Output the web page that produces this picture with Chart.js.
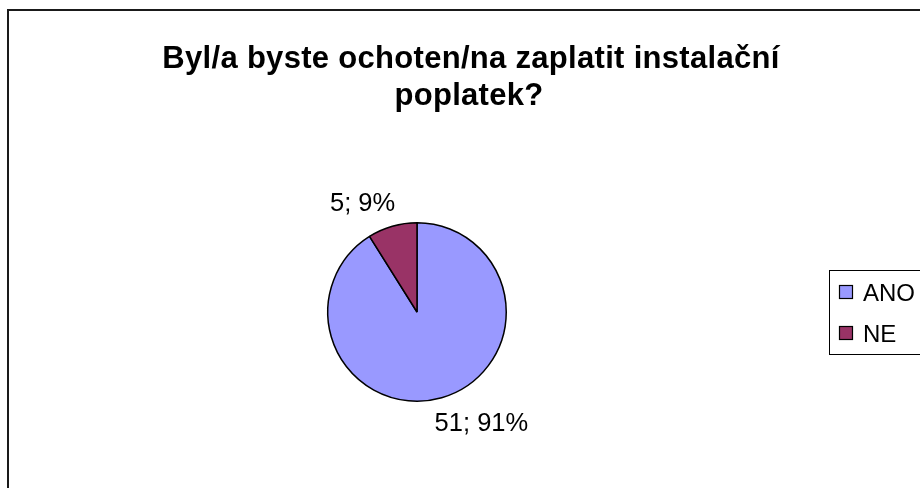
<!DOCTYPE html>
<html>
<head>
<meta charset="utf-8">
<script src="https://cdn.jsdelivr.net/npm/chart.js@4.4.0/dist/chart.umd.min.js"></script>
<style>
html,body{margin:0;padding:0;background:#fff;}
#wrap{width:920px;height:488px;position:relative;}
</style>
</head>
<body>
<div id="wrap"><canvas id="c" width="920" height="488"></canvas></div>
<script>
const titleLines = ["Byl/a byste ochoten/na zaplatit instalační", "poplatek?"];
const categories = ["ANO", "NE"];
const values = [51, 5];
const percentLabels = ["91%", "9%"];
const colors = ["#9999FF", "#993366"];

const FONT = "'Liberation Sans', Arial, sans-serif";

const decor = {
  id: 'decor',
  beforeDraw(chart) {
    const ctx = chart.ctx;
    ctx.save();
    ctx.fillStyle = '#fff';
    ctx.fillRect(0, 0, chart.width, chart.height);
    ctx.restore();
  },
  afterDraw(chart) {
    const ctx = chart.ctx;
    ctx.save();
    // outer frame
    ctx.strokeStyle = '#1a1a1a';
    ctx.lineWidth = 2;
    ctx.strokeRect(8, 10, 940, 500);
    // title
    ctx.fillStyle = '#000';
    ctx.font = "bold 31px " + FONT;
    if ('letterSpacing' in ctx) ctx.letterSpacing = '0.3px';
    ctx.textAlign = 'center';
    ctx.textBaseline = 'alphabetic';
    ctx.fillText(titleLines[0], 471, 68);
    ctx.fillText(titleLines[1], 469, 105);
    if ('letterSpacing' in ctx) ctx.letterSpacing = '0px';
    // data labels
    const meta = chart.getDatasetMeta(0);
    const LS = 25.5;
    ctx.font = LS + "px " + FONT;
    meta.data.forEach((arc, i) => {
      const p = arc.getProps(['x','y','startAngle','endAngle','outerRadius'], true);
      const mid = (p.startAngle + p.endAngle) / 2;
      const txt = values[i] + "; " + percentLabels[i];
      const w = ctx.measureText(txt).width;
      const r = p.outerRadius + 25;
      const c = Math.cos(mid), s = Math.sin(mid);
      const x = p.x + c * r + Math.sign(c) * 0.7 * w / 2;
      const y = p.y + s * r;
      ctx.fillText(txt, x, y + 0.358 * LS);
    });
    // legend
    ctx.strokeStyle = '#000';
    ctx.lineWidth = 1;
    ctx.strokeRect(829.5, 270.5, 120, 84);
    ctx.textAlign = 'left';
    ctx.font = "24px " + FONT;
    categories.forEach((cat, i) => {
      const y = 292 + i * 41;
      ctx.fillStyle = colors[i];
      ctx.fillRect(839.5, y - 6.5, 13, 13);
      ctx.strokeStyle = '#000';
      ctx.lineWidth = 1.2;
      ctx.strokeRect(839.5, y - 6.5, 13, 13);
      ctx.fillStyle = '#000';
      ctx.fillText(cat, 863, y + 8.6);
    });
    ctx.restore();
  }
};

new Chart(document.getElementById('c'), {
  type: 'pie',
  data: {
    labels: categories,
    datasets: [{
      data: values,
      backgroundColor: colors,
      borderColor: '#000',
      borderWidth: 1.5
    }]
  },
  options: {
    responsive: false,
    animation: false,
    layout: { padding: { left: 327, right: 413, top: 222, bottom: 86 } },
    plugins: {
      legend: { display: false },
      title: { display: false },
      tooltip: { enabled: false }
    }
  },
  plugins: [decor]
});
</script>
</body>
</html>
